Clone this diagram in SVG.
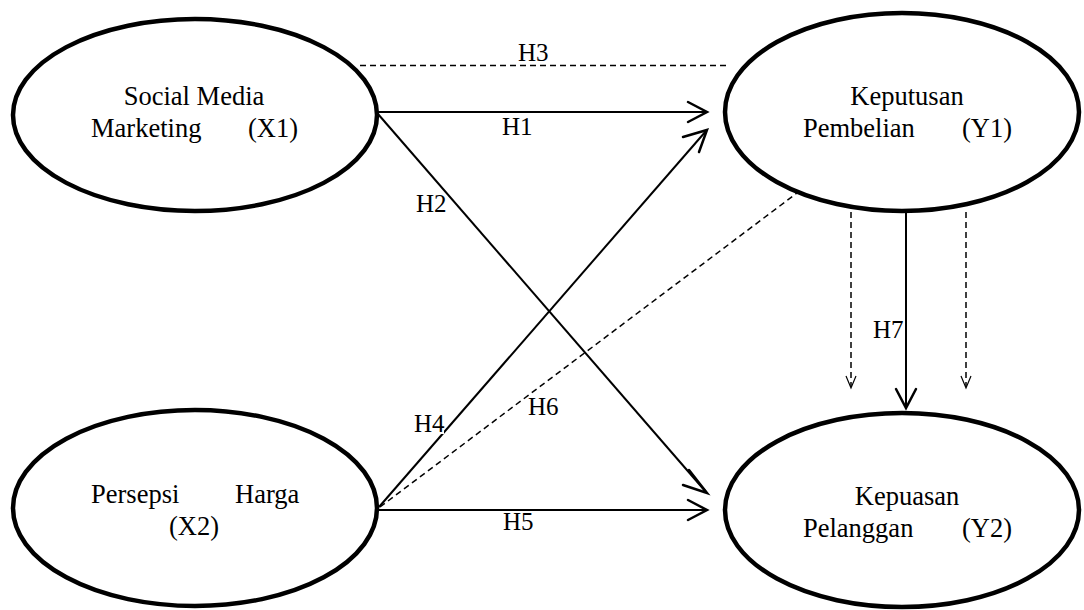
<svg xmlns="http://www.w3.org/2000/svg" width="1084" height="610" viewBox="0 0 1084 610">
<style>
.node ellipse{fill:#fff;stroke:#000;stroke-width:4.5}
text{fill:#000;font-family:"Liberation Serif","Times New Roman",serif}
.nt{font-size:26.5px}
.lb{font-size:25px}
.solid{stroke:#000;stroke-width:2;fill:none}
.dash{stroke:#000;stroke-width:1.5;fill:none;stroke-dasharray:6,4}
.head{stroke:#000;stroke-width:2.5;fill:none;stroke-linecap:round;stroke-linejoin:miter}
.shead{stroke:#000;stroke-width:1.2;fill:none}
</style>
<rect width="1084" height="610" fill="#fff"/>
<g id="connectors">
  <line class="dash" x1="360" y1="65.5" x2="728" y2="65.5"/>
  <line class="solid" x1="378" y1="112" x2="706" y2="112"/>
  <polyline class="head" points="688,102 707,112 688,122"/>
  <line class="solid" x1="378" y1="114" x2="706" y2="492"/>
  <polyline class="head" points="689,470 707,493 683,485"/>
  <line class="solid" x1="379" y1="507" x2="706" y2="131"/>
  <polyline class="head" points="683,137 707,130 699,152"/>
  <line class="solid" x1="379" y1="510" x2="706" y2="510"/>
  <polyline class="head" points="688,500 707,510 688,520"/>
  <line class="dash" x1="380" y1="507" x2="797" y2="193"/>
  <line class="solid" x1="906" y1="212" x2="906" y2="407"/>
  <polyline class="head" points="896,389 906,408 916,389"/>
  <line class="dash" x1="851" y1="212" x2="851" y2="387"/>
  <polyline class="shead" points="846,376 851,388 856,376"/>
  <line class="dash" x1="966" y1="212" x2="966" y2="387"/>
  <polyline class="shead" points="961,376 966,388 971,376"/>
  <text class="lb" x="518" y="61">H3</text>
  <text class="lb" x="502" y="135">H1</text>
  <text class="lb" x="416" y="212">H2</text>
  <rect x="414" y="424" width="30" height="10" fill="#fff"/>
  <text class="lb" x="414" y="432">H4</text>
  <text class="lb" x="528" y="415">H6</text>
  <text class="lb" x="503" y="530">H5</text>
  <text class="lb" x="873" y="338">H7</text>
</g>
<g id="x1" class="node">
  <ellipse cx="195" cy="115" rx="182" ry="96"/>
  <text class="nt" x="194" y="105" text-anchor="middle">Social Media</text>
  <text class="nt" x="91" y="137">Marketing</text>
  <text class="nt" x="248" y="137">(X1)</text>
</g>
<g id="y1" class="node">
  <ellipse cx="902" cy="112" rx="177" ry="99"/>
  <text class="nt" x="907" y="105" text-anchor="middle">Keputusan</text>
  <text class="nt" x="803" y="137">Pembelian</text>
  <text class="nt" x="962" y="137">(Y1)</text>
</g>
<g id="x2" class="node">
  <ellipse cx="195" cy="508" rx="182" ry="98"/>
  <text class="nt" x="91" y="503">Persepsi</text>
  <text class="nt" x="235" y="503">Harga</text>
  <text class="nt" x="169" y="535">(X2)</text>
</g>
<g id="y2" class="node">
  <ellipse cx="902" cy="510" rx="177" ry="97"/>
  <text class="nt" x="907" y="505" text-anchor="middle">Kepuasan</text>
  <text class="nt" x="803" y="537">Pelanggan</text>
  <text class="nt" x="962" y="537">(Y2)</text>
</g>
</svg>
